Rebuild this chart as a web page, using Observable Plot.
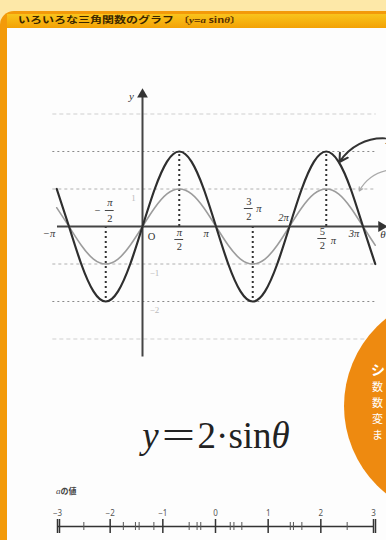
<!DOCTYPE html>
<html><head><meta charset="utf-8">
<script src="https://cdn.jsdelivr.net/npm/d3@7"></script>
<script src="https://cdn.jsdelivr.net/npm/@observablehq/plot@0.6"></script>
<style>
html,body{margin:0;padding:0;width:386px;height:540px;overflow:hidden;background:#fde8a8;font-family:"Noto Sans CJK JP","Noto Sans",sans-serif;position:relative;}
#frame{position:absolute;left:0;top:11px;width:460px;height:600px;background:#f39a0a;border-radius:14px 0 0 0;}
#header{position:absolute;left:7px;top:3px;right:0;height:14px;background:linear-gradient(to bottom,#f9c41c,#f3a206);}
#title{position:absolute;left:18px;top:15px;white-space:nowrap;font-weight:bold;font-size:12px;line-height:12px;color:#3a2600;transform:scaleY(0.72);transform-origin:left top;}
#title .sub{font-size:11px;font-weight:bold;color:#5a3000;margin-left:4px;}
#title .sub i{font-family:"Liberation Serif",serif;}
#panel{position:absolute;left:7px;top:17px;right:0;bottom:0;background:#fdfdfd;}
#chart{position:absolute;left:0;top:0;width:386px;height:380px;}
#formula{position:absolute;left:0;width:432px;top:415px;text-align:center;font-family:"Liberation Serif","DejaVu Serif",serif;font-size:37px;line-height:42px;color:#222;white-space:nowrap;}
#formula .eq{display:inline-block;transform:scaleX(1.6);margin:0 9px;}
#alabel{position:absolute;left:56px;top:485px;font-size:8px;font-weight:bold;color:#444;}
#alabel i{font-family:"Liberation Serif",serif;font-weight:normal;font-size:9px;}
#slider{position:absolute;left:0;top:495px;width:386px;height:45px;}
#circle{position:absolute;left:344px;top:294px;width:224px;height:224px;border-radius:50%;background:#ee8a10;}
.ct{position:absolute;left:372px;color:#fff;font-size:11px;line-height:16px;height:16px;}
.ct.big{font-size:14px;font-weight:bold;line-height:18px;height:18px;left:371px;}
svg{max-width:none !important;}
</style></head>
<body>
<div id="frame"><div id="header"></div><div id="panel"></div></div>
<div id="title">いろいろな三角関数のグラフ<span class="sub">〔<i>y</i>=<i>a</i> sin<i>θ</i>〕</span></div>
<div id="chart"></div>
<div id="formula"><i>y</i><span class="eq">=</span>2·sin<i>θ</i></div>
<div id="alabel"><i>a</i>の値</div>
<div id="slider"></div>
<div id="circle"></div>
<div class="ct big" style="top:360px">シ</div>
<div class="ct" style="top:378px">数</div>
<div class="ct" style="top:394px">数</div>
<div class="ct" style="top:410px">変</div>
<div class="ct" style="top:426px">ま</div>
<script>
// θ sample points, in sixths of π
const thetaSixths = [-7,-6,-5,-4,-3,-2,-1,0,1,2,3,4,5,6,7,8,9,10,11,12,13,14,15,16,17,18,19];
// y = 2·sinθ (dark curve)
const y2sin = [1,0,-1,-1.73,-2,-1.73,-1,0,1,1.73,2,1.73,1,0,-1,-1.73,-2,-1.73,-1,0,1,1.73,2,1.73,1,0,-1];
// y = sinθ (gray reference curve)
const ysin = [0.5,0,-0.5,-0.87,-1,-0.87,-0.5,0,0.5,0.87,1,0.87,0.5,0,-0.5,-0.87,-1,-0.87,-0.5,0,0.5,0.87,1,0.87,0.5,0,-0.5];
// guide lines
const gridOuter = [3,-3];
const gridUnit = [1,-1];
const gridAmp = [2,-2];
// peaks / troughs of y=2sinθ (θ in units of π)
const peakTheta = [-0.5,0.5,1.5,2.5];
const peakValue = [-2,2,-2,2];
// θ axis labels (θ in units of π)
const thetaTicks = [-1,-0.5,0,0.5,1,1.5,2,2.5,3];
const thetaTickText = ["−π","−π/2","O","π/2","π","3π/2","2π","5π/2","3π"];
// y axis faint labels
const yTickVals = [1,-1,-2];
const yTickText = ["1","−1","−2"];
// slider
const aTicks = [-3,-2,-1,0,1,2,3];
const aMinor = [-2.5,-1.75,-1.52,-1.45,-1.17,-0.5,-0.35,-0.28,0.28,0.35,0.5,1.42,1.48,1.64,2.5];

const dark = thetaSixths.map((k,i)=>({t:k/6, v:y2sin[i]}));
const gray = thetaSixths.map((k,i)=>({t:k/6, v:ysin[i]}));
const peaks = peakTheta.map((t,i)=>({t, v:peakValue[i]}));
const tStart = thetaSixths[0]/6;

const serif = "Liberation Serif, DejaVu Serif, serif";
// label piece layout: [text, dx, dy]; "bar" = fraction bar
const layout = {
  "−π":[["−π",-20,7]],
  "−π/2":[["−",-8,-16],["π",4,-24],["bar",4,-16],["2",4,-8]],
  "O":[["O",9,10]],
  "π/2":[["π",0,6],["bar",0,13],["2",0,20]],
  "π":[["π",-10,7]],
  "3π/2":[["3",-4,-25],["bar",-4,-18],["2",-4,-10],["π",6,-18]],
  "2π":[["2π",-6,-9]],
  "5π/2":[["5",-4,5],["bar",-4,12],["2",-4,19],["π",7,14]],
  "3π":[["3π",-9,7]]
};
const barHalf = 0.06; // half width of a fraction bar, in θ/π units
const labelMarks = [];
thetaTicks.forEach((t,i)=>{
  for (const [txt,dx,dy] of layout[thetaTickText[i]]) {
    if (txt === "bar") {
      labelMarks.push(Plot.ruleY([{t, v:0}], {y:"v", x1:d=>d.t-barHalf, x2:d=>d.t+barHalf, dx, dy, stroke:"#333", strokeWidth:0.9}));
    } else {
      labelMarks.push(Plot.text([{t, v:0, txt}], {x:"t", y:"v", text:"txt", dx, dy, fontSize:10.5, fontFamily:serif, fontStyle: /π/.test(txt)?"italic":"normal", fill:"#333"}));
    }
  }
});
const yLabelMarks = yTickVals.map((v,i)=>Plot.text([{t:0,v,txt:yTickText[i]}], {x:"t",y:"v",text:"txt", dx: v>0?-9:12, dy:9, fontSize:9, fontFamily:serif, fill:"#bbb"}));

const annots = [{x1:3.3, y1:2.35, x2:2.68, y2:1.72}];
const annotsGray = [{x1:3.34, y1:1.5, x2:2.95, y2:0.95}];

const chart = Plot.plot({
  width:386, height:380,
  x:{domain:[-1.3,3.3], range:[46.45,384.55], axis:null},
  y:{domain:[-3.6,3.6], range:[361,91], axis:null},
  style:{background:"transparent", overflow:"visible"},
  marks:[
    Plot.ruleY(gridOuter, {x1:-1.22, x2:3.18, stroke:"#cfcfcf", strokeDasharray:"4,3"}),
    Plot.ruleY(gridUnit, {x1:-1.22, x2:3.18, stroke:"#b0b0b0", strokeDasharray:"3,3"}),
    Plot.ruleY(gridAmp, {x1:-1.22, x2:3.18, stroke:"#8a8a8a", strokeDasharray:"2,3", strokeWidth:1.2}),
    Plot.ruleX(peaks, {x:"t", y1:0, y2:"v", stroke:"#333", strokeWidth:2, strokeDasharray:"2,3"}),
    Plot.ruleY([0], {x1:tStart+0.01, x2:3.22, stroke:"#444", strokeWidth:2}),
    Plot.ruleX([0], {y1:-3.48, y2:3.5, stroke:"#444", strokeWidth:2}),
    Plot.dot([{t:3.25, v:0}], {x:"t", y:"v", symbol:"triangle", rotate:90, r:4, fill:"#333", stroke:null}),
    Plot.dot([{t:0, v:3.52}], {x:"t", y:"v", symbol:"triangle", r:4, fill:"#333", stroke:null}),
    Plot.line(gray, {x:"t", y:"v", curve:"natural", stroke:"#9c9c9c", strokeWidth:1.6}),
    Plot.line(dark, {x:"t", y:"v", curve:"natural", stroke:"#2e2e2e", strokeWidth:2.2}),
    Plot.arrow(annots, {x1:"x1", y1:"y1", x2:"x2", y2:"y2", bend:-30, stroke:"#333", strokeWidth:2, headLength:7}),
    Plot.arrow(annotsGray, {x1:"x1", y1:"y1", x2:"x2", y2:"y2", bend:-25, stroke:"#aaa", strokeWidth:1.2, headLength:5}),
    Plot.text([{t:3.29, v:2.35}], {x:"t", y:"v", text:()=>"y=2sinθ", textAnchor:"start", dx:2, fontSize:10, fontFamily:serif, fontStyle:"italic", fill:"#333"}),
    Plot.text([{t:0, v:3.52}], {x:"t", y:"v", text:()=>"y", dx:-11, dy:2, fontSize:11, fontFamily:serif, fontStyle:"italic", fill:"#333"}),
    Plot.text([{t:3.3, v:0}], {x:"t", y:"v", text:()=>"θ", dx:-2, dy:8, fontSize:11, fontFamily:serif, fontStyle:"italic", fill:"#333"}),
    ...labelMarks,
    ...yLabelMarks
  ]
});
document.getElementById("chart").appendChild(chart);

const slider = Plot.plot({
  width:386, height:45, marginTop:24, marginBottom:7,
  x:{domain:[-3,3], range:[57,373]},
  y:{domain:[-1,1], axis:null},
  style:{background:"transparent"},
  marks:[
    Plot.axisX(aTicks, {anchor:"top", tickSize:0, tickPadding:4, fontSize:8, fill:"#555", tickFormat:d=>d<0?"−"+(-d):String(d)}),
    Plot.ruleY([0], {x1:-3, x2:3, stroke:"#333", strokeWidth:1.3}),
    Plot.tickX(aTicks, {stroke:"#333", strokeWidth:1.5}),
    Plot.tickX([-3,3], {dx:2, stroke:"#333", strokeWidth:1.5}),
    Plot.tickX(aMinor, {insetTop:3, insetBottom:3, stroke:"#555", strokeWidth:1})
  ]
});
document.getElementById("slider").appendChild(slider);
</script>
</body></html>
